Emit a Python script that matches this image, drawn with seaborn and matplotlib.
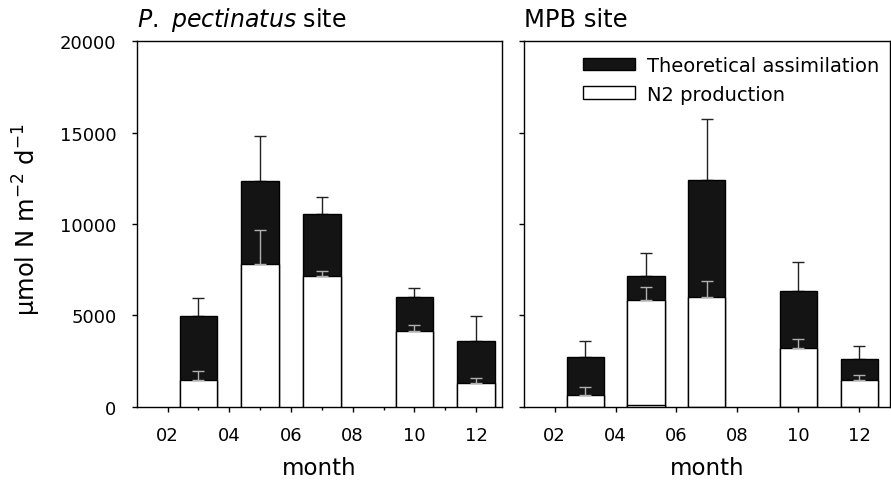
import matplotlib
matplotlib.use("Agg")
import matplotlib.pyplot as plt
import matplotlib.patches as mpatches
import seaborn as sns
import numpy as np
import pandas as pd

# ---- data ----
bar_months = [3, 5, 7, 10, 12]
tick_months = [2, 4, 6, 8, 10, 12]
tick_labels = ["02", "04", "06", "08", "10", "12"]

left_assim = [4940, 12380, 10570, 5980, 3600]
left_assim_err = [1000, 2460, 910, 490, 1390]
left_n2 = [1460, 7820, 7180, 4150, 1320]
left_n2_err = [500, 1830, 240, 330, 250]

right_assim = [2710, 7180, 12400, 6360, 2620]
right_assim_err = [880, 1250, 3320, 1560, 690]
right_n2 = [660, 5830, 6010, 3240, 1480]
right_n2_err = [410, 730, 870, 480, 250]
right_base = [0, 100, 0, 0, 0]

sns.set_style("ticks")
plt.rcParams["font.family"] = ["DejaVu Sans"]
plt.rcParams["mathtext.fontset"] = "dejavusans"
for k in ["text.color", "axes.labelcolor", "xtick.color", "ytick.color",
          "axes.edgecolor"]:
    plt.rcParams[k] = "black"

fig = plt.figure(figsize=(8.91, 4.81), dpi=100)
W, H = 891, 481
def axrect(x0, x1, y0, y1):
    return [x0 / W, 1 - y1 / H, (x1 - x0) / W, (y1 - y0) / H]

axL = fig.add_axes(axrect(136.7, 502.3, 42.3, 407.7))
axR = fig.add_axes(axrect(524.3, 889.5, 42.3, 407.7))

BLACK = "#141414"

def draw(ax, assim, assim_err, n2, n2_err, base=None):
    df = pd.DataFrame({"month": bar_months, "assim": assim, "n2": n2})
    sns.barplot(data=df, x="month", y="assim", native_scale=True, width=0.61,
                color=BLACK, edgecolor="black", linewidth=1, saturation=1,
                errorbar=None, ax=ax, zorder=2)
    ax.errorbar(bar_months, assim, yerr=[np.zeros(len(assim)), assim_err],
                fmt="none", ecolor="#222222", elinewidth=1, capsize=4.3,
                capthick=1, zorder=1)
    sns.barplot(data=df, x="month", y="n2", native_scale=True, width=0.61,
                color="white", edgecolor="black", linewidth=1, saturation=1,
                errorbar=None, ax=ax, zorder=3)
    ax.errorbar(bar_months, n2, yerr=[np.zeros(len(n2)), n2_err],
                fmt="none", ecolor="#b0b0b0", elinewidth=1, capsize=4.3,
                capthick=1, zorder=4)
    if base is not None:
        dfb = pd.DataFrame({"month": bar_months, "base": base})
        sns.barplot(data=dfb, x="month", y="base", native_scale=True, width=0.61,
                    color="white", edgecolor="black", linewidth=1, saturation=1,
                    errorbar=None, ax=ax, zorder=3.5)
    ax.set_ylim(0, 20000)
    ax.set_yticks([0, 5000, 10000, 15000, 20000])
    ax.set_xticks(tick_months)
    ax.set_xticklabels(tick_labels)
    for s in ax.spines.values():
        s.set_visible(True)
        s.set_linewidth(1.0)
        s.set_color("black")
    ax.tick_params(axis="both", direction="out", length=3.6, width=1,
                   labelsize=13, color="black", labelcolor="black")
    ax.tick_params(axis="x", pad=10)
    ax.tick_params(axis="y", pad=11)
    ax.set_xlabel("month", fontsize=16.5)
    ax.xaxis.set_label_coords(0.5, -0.135)
    ax.set_ylabel("")

draw(axL, left_assim, left_assim_err, left_n2, left_n2_err)
draw(axR, right_assim, right_assim_err, right_n2, right_n2_err, right_base)

axL.set_xlim(1, 12.85)
axR.set_xlim(1, 13)
axL.set_xticks([3, 5, 7, 9, 11], minor=True)
axL.tick_params(axis="x", which="minor", length=2.5, width=1, direction="out")
axR.tick_params(axis="y", labelleft=False)

axL.set_ylabel("μmol N m$^{-2}$ d$^{-1}$", fontsize=17.5)
axL.yaxis.set_label_coords(-0.255, 0.515)

axL.set_title(r"$\it{P.\ pectinatus}$ site", loc="left", fontsize=17, pad=11)
axR.set_title("MPB site", loc="left", fontsize=17.5, pad=11)

handles = [mpatches.Patch(facecolor=BLACK, edgecolor="black", linewidth=1,
                          label="Theoretical assimilation"),
           mpatches.Patch(facecolor="white", edgecolor="black", linewidth=1,
                          label="N2 production")]
axR.legend(handles=handles, loc="upper left", bbox_to_anchor=(0.16, 0.96),
           frameon=False, fontsize=14, handlelength=2.7, handleheight=0.62,
           handletextpad=0.6, labelspacing=0.5, borderpad=0, borderaxespad=0)

fig.savefig("out.png", dpi=100)
